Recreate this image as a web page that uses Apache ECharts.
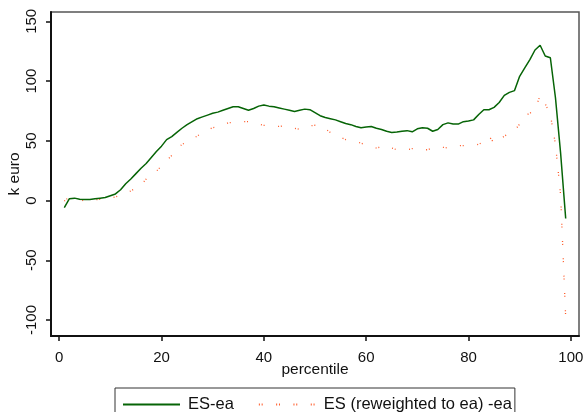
<!DOCTYPE html>
<html>
<head>
<meta charset="utf-8">
<script src="https://cdn.jsdelivr.net/npm/echarts@6/dist/echarts.min.js"></script>
<style>
html,body{margin:0;padding:0;background:#fff;}
#chart{width:586px;height:412px;}
</style>
</head>
<body>
<div id="chart"></div>
<script>
const percentile = [1,2,3,4,5,6,7,8,9,10,11,12,13,14,15,16,17,18,19,20,21,22,23,24,25,26,27,28,29,30,31,32,33,34,35,36,37,38,39,40,41,42,43,44,45,46,47,48,49,50,51,52,53,54,55,56,57,58,59,60,61,62,63,64,65,66,67,68,69,70,71,72,73,74,75,76,77,78,79,80,81,82,83,84,85,86,87,88,89,90,91,92,93,94,95,96,97,98,99];
const esEa = [-6,1.5,2,1,0.8,0.8,1.5,2,2.5,4,5.5,9,14,18,22.5,27,31,36,41,45.5,51,53.5,57,60.5,63.5,66,68.5,70,71.5,73,74,75.5,77,78.5,78.5,77,75.5,77,79,80,79,78.5,77.5,76.5,75.5,74.5,75.5,76.5,76,73.5,71,69.5,68.5,67.5,66,64.5,63.5,62,61,61.5,62,60.5,59.5,58,57,57.3,58,58.5,57.5,60,61,60.5,58,59.5,63.5,65,64,64,66,66.5,67.5,72,76,76,78,82,88,90.5,92,104,111,118,126,130,121,119.5,86,40,-15];
const esReweighted = [-0.5,3,3,1,-0.5,0.5,0.6,1,1.5,2,3,4.5,6,8,10.5,13,18,22,24.5,29,33.5,37.7,43,47,49,51.5,54,57,59,61,61.7,63,65,65.5,66,66,66,66,64,63,62.5,62,62,62.5,62,60.5,59.5,61,62.5,63,63,60,57,54.5,53,51,50,49.5,48,46.5,45,44,45,46,44,42.5,42.5,42.5,43.5,43.5,42.5,42.5,44,45,44.5,44,45,46,46,46,46.5,47,49.5,54,48,50,54,56,58.5,64,71,73,76,88,81,72,47,5,-98];
const xTicks = [0,20,40,60,80,100];
const yTicks = [-100,-50,0,50,100,150];
const seriesNames = ['ES-ea','ES (reweighted to ea) -ea'];

const font = "'Liberation Sans', Arial, sans-serif";
const chart = echarts.init(document.getElementById('chart'), null, {renderer:'canvas'});
const pairs = (ys) => percentile.map((p,i)=>[p, ys[i]]);

chart.setOption({
  backgroundColor:'#ffffff',
  animation:false,
  grid:{left:51,right:7,top:12,bottom:76,containLabel:false,outerBoundsMode:'none',
        show:true,borderColor:'#555',borderWidth:1.5,backgroundColor:'transparent'},
  xAxis:{
    type:'value', min:-1.6, max:101.6,
    name:'percentile', nameLocation:'middle', nameGap:26, nameMoveOverlap:false,
    nameTextStyle:{fontSize:15.5,color:'#111',fontFamily:font},
    axisLine:{show:true,onZero:false,lineStyle:{color:'#111',width:2}},
    axisTick:{show:true,length:5,lineStyle:{color:'#111',width:1.5},customValues:xTicks},
    axisLabel:{fontSize:15,color:'#111',fontFamily:font,margin:14,customValues:xTicks},
    splitLine:{show:false}
  },
  yAxis:{
    type:'value', min:-113.4, max:157.8,
    name:'k euro', nameLocation:'middle', nameGap:28, nameMoveOverlap:false,
    nameTextStyle:{fontSize:15.5,color:'#111',fontFamily:font},
    axisLine:{show:true,onZero:false,lineStyle:{color:'#111',width:2}},
    axisTick:{show:true,length:5,lineStyle:{color:'#111',width:1.5},customValues:yTicks},
    axisLabel:{fontSize:15,color:'#111',fontFamily:font,margin:12,rotate:90,customValues:yTicks},
    splitLine:{show:false}
  },
  legend:{
    show:true, left:115, top:388, orient:'horizontal',
    itemWidth:57, itemHeight:14, itemGap:24,
    padding:[8,3,8,7],
    borderColor:'#333', borderWidth:1, borderRadius:0,
    itemStyle:{opacity:0},
    textStyle:{fontSize:16.5,color:'#111',fontFamily:font,padding:[0,0,0,3]},
    data:seriesNames
  },
  series:[
    {name:seriesNames[0], type:'line', data:pairs(esEa), symbol:'none', showSymbol:false,
     lineStyle:{color:'#066406',width:1.5}, itemStyle:{color:'#066406'}, z:3},
    {name:seriesNames[1], type:'line', data:pairs(esReweighted), symbol:'none', showSymbol:false,
     lineStyle:{color:'#ff5a28',width:1.3,type:[1,1.8,1,13.5],cap:'butt'}, itemStyle:{color:'#ff5a28'}, z:2}
  ]
});
</script>
</body>
</html>
